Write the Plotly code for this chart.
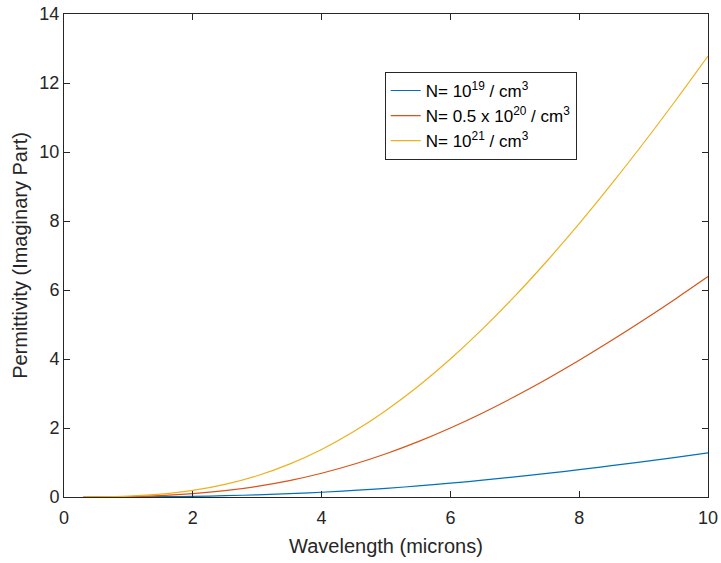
import plotly.graph_objects as go

wavelength = [0.3, 0.5, 1.0, 1.5, 2.0, 2.5, 3.0, 3.5, 4.0, 4.5, 5.0,
              5.5, 6.0, 6.5, 7.0, 7.5, 8.0, 8.5, 9.0, 9.5, 10.0]
eps_n19 = [0.000, 0.000, 0.002, 0.008, 0.019, 0.037, 0.062, 0.095, 0.138, 0.190, 0.251,
           0.321, 0.400, 0.487, 0.582, 0.684, 0.792, 0.907, 1.026, 1.150, 1.278]
eps_n05e20 = [0.000, 0.002, 0.012, 0.041, 0.096, 0.183, 0.309, 0.476, 0.689, 0.949, 1.254,
              1.605, 2.000, 2.436, 2.911, 3.420, 3.962, 4.533, 5.130, 5.750, 6.390]
eps_n21 = [0.001, 0.003, 0.025, 0.082, 0.191, 0.366, 0.617, 0.953, 1.378, 1.897, 2.509,
           3.211, 4.000, 4.872, 5.821, 6.841, 7.923, 9.067, 10.261, 11.500, 12.780]

names = ["N= 10<sup>19</sup> / cm<sup>3</sup>",
         "N= 0.5 x 10<sup>20</sup> / cm<sup>3</sup>",
         "N= 10<sup>21</sup> / cm<sup>3</sup>"]
colors = ["#0072BD", "#D95319", "#EDB120"]
series = [eps_n19, eps_n05e20, eps_n21]

fig = go.Figure()
for n, c, y in zip(names, colors, series):
    fig.add_trace(go.Scatter(x=wavelength, y=y, mode="lines", name=n,
                             line=dict(color=c, width=1.2, shape="spline")))

font = "Liberation Sans, Arial, Helvetica, sans-serif"
axis_common = dict(showgrid=False, zeroline=False, showline=True, linecolor="#262626",
                   linewidth=1, mirror="ticks", ticks="inside", ticklen=6, automargin=False,
                   tickcolor="#262626", tickfont=dict(family=font, size=18, color="#262626"))

fig.update_layout(
    width=721, height=563,
    margin=dict(l=64, r=13, t=14, b=66, autoexpand=False),
    paper_bgcolor="white", plot_bgcolor="white",
    font=dict(family=font, color="#262626"),
    xaxis=dict(range=[0, 10], dtick=2, ticklabelstandoff=4,
               title=dict(text="Wavelength (microns)",
                          font=dict(size=20, family=font, color="#262626"), standoff=12),
               **axis_common),
    yaxis=dict(range=[0, 14], dtick=2,
               title=dict(text="Permittivity (Imaginary Part)",
                          font=dict(size=20, family=font, color="#262626"), standoff=6),
               **axis_common),
    legend=dict(x=0.498, y=0.88, xanchor="left", yanchor="top",
                bgcolor="white", bordercolor="#262626", borderwidth=1,
                font=dict(family=font, size=17, color="#000000"),
                itemwidth=30, tracegroupgap=0),
    showlegend=True,
)

fig.write_html("out.html")
